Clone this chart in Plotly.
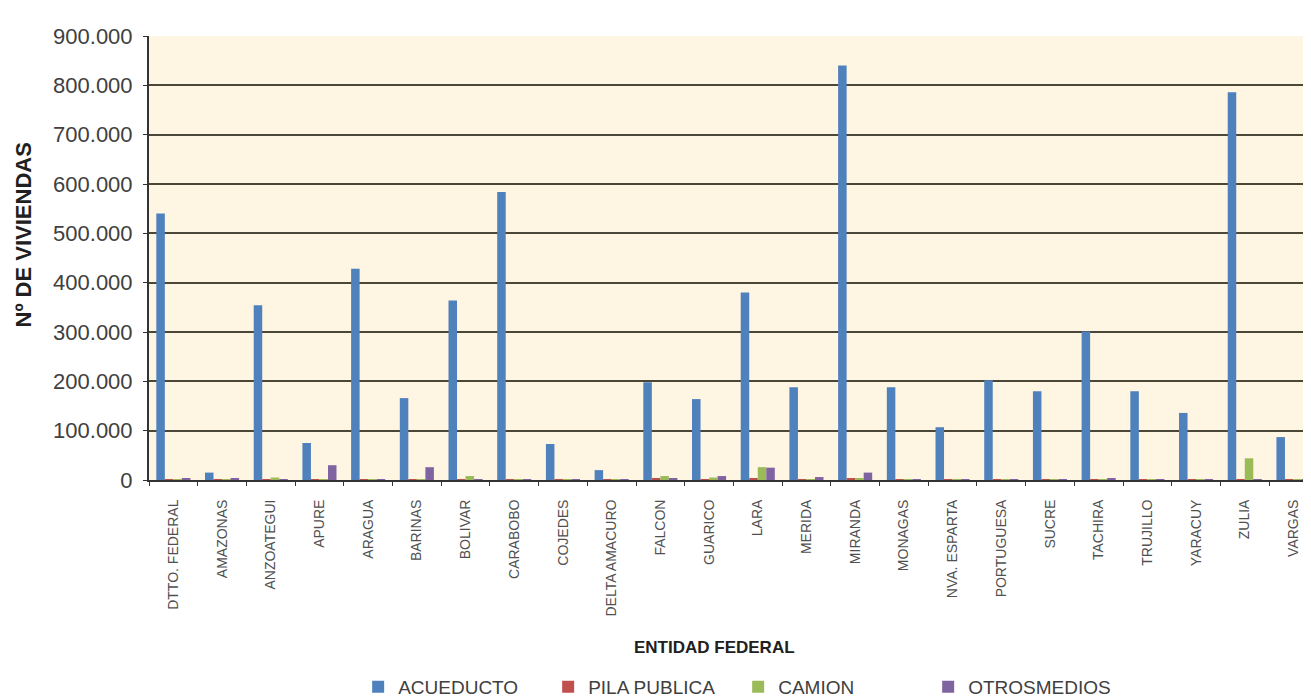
import plotly.graph_objects as go

entidades = ["DTTO. FEDERAL", "AMAZONAS", "ANZOATEGUI", "APURE", "ARAGUA", "BARINAS",
             "BOLIVAR", "CARABOBO", "COJEDES", "DELTA AMACURO", "FALCON", "GUARICO",
             "LARA", "MERIDA", "MIRANDA", "MONAGAS", "NVA. ESPARTA", "PORTUGUESA",
             "SUCRE", "TACHIRA", "TRUJILLO", "YARACUY", "ZULIA", "VARGAS"]

acueducto = [540000, 15000, 354000, 75000, 428000, 166000, 364000, 584000, 73000, 20000,
             198000, 164000, 380000, 188000, 840000, 188000, 107000, 202000, 180000,
             301000, 180000, 136000, 786000, 87000]
pila_publica = [2000, 1000, 2000, 2000, 1500, 2000, 2000, 1000, 1000, 1000, 3000, 2000,
                4000, 2000, 3000, 1500, 1000, 1000, 1500, 1500, 1500, 1500, 2000, 1000]
camion = [1000, 1000, 5000, 2000, 1000, 2000, 8000, 1000, 1000, 1000, 8000, 5000,
          26000, 2000, 3000, 1000, 1000, 1000, 1000, 1000, 1000, 1000, 44000, 1000]
otros_medios = [3000, 3000, 2000, 30000, 2000, 26000, 2000, 1000, 1000, 2000, 3000, 8000,
                25000, 6000, 15000, 2000, 1000, 1000, 1000, 3000, 1000, 2000, 2000, 1000]

series = [("ACUEDUCTO", acueducto, "#4F81BD"),
          ("PILA PUBLICA", pila_publica, "#C0504D"),
          ("CAMION", camion, "#9BBB59"),
          ("OTROSMEDIOS", otros_medios, "#8064A2")]

y_ticks = [0, 100000, 200000, 300000, 400000, 500000, 600000, 700000, 800000, 900000]

fig = go.Figure()
for name, vals, col in series:
    fig.add_trace(go.Bar(x=entidades, y=vals, name=name, marker_color=col,
                         marker_line_width=0))

fig.update_layout(
    width=1303, height=689,
    barmode="group", bargap=0.3, bargroupgap=0,
    separators=",.",
    paper_bgcolor="white",
    plot_bgcolor="#FEF6E3",
    margin=dict(l=141, r=0, t=28, b=217),
    font=dict(family="Liberation Sans, Arial, sans-serif", color="#404040"),
    showlegend=True,
    legend=dict(orientation="h", xref="paper", x=0.18, xanchor="left",
                yref="container", y=0.0145, yanchor="middle",
                font=dict(size=19, color="#404040"), itemwidth=30,
                entrywidthmode="pixels", entrywidth=145,
                traceorder="normal"),
    xaxis=dict(
        range=[-0.5, 23.36],
        automargin=False,
        tickangle=-90,
        tickfont=dict(size=14, color="#505050"),
        ticks="outside", tickson="boundaries", ticklen=4, tickcolor="#333",
        ticklabelstandoff=12,
        showline=True, linecolor="#333", linewidth=2,
        showgrid=False,
    ),
    yaxis=dict(
        range=[0, 900000],
        automargin=False,
        tickvals=y_ticks,
        tickformat=",.0f",
        tickfont=dict(size=22, color="#404040"),
        ticks="outside", ticklen=4, tickcolor="#333",
        ticklabelstandoff=6,
        showline=True, linecolor="#333", linewidth=2,
        gridcolor="#4a4638", gridwidth=2,
        zeroline=False,
    ),
    annotations=[
        dict(text="<b>ENTIDAD FEDERAL</b>", xref="paper", yref="paper",
             x=0.487, y=-0.378, xanchor="center", yanchor="middle",
             showarrow=False, font=dict(size=17, color="#202020")),
        dict(text="<b>Nº DE VIVIENDAS</b>", xref="paper", yref="paper",
             x=-0.108, y=0.552, xanchor="center", yanchor="middle", textangle=-90,
             showarrow=False, font=dict(size=22, color="#202020")),
    ],
)

fig.write_html("out.html")
